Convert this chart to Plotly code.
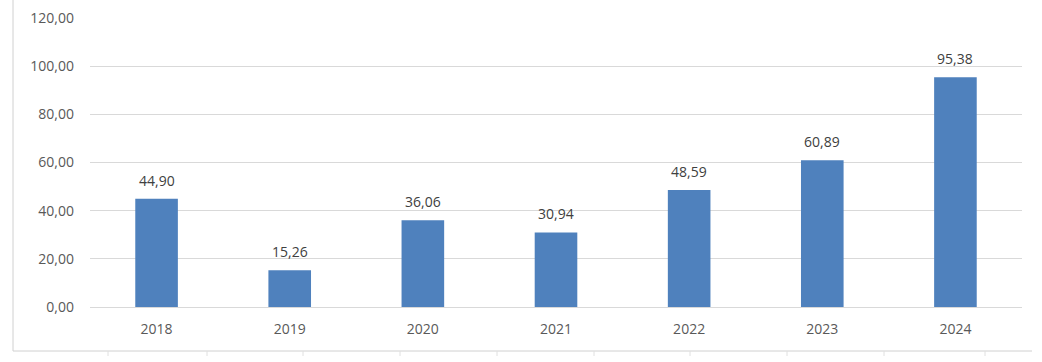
import plotly.graph_objects as go

years = ["2018", "2019", "2020", "2021", "2022", "2023", "2024"]
values = [44.90, 15.26, 36.06, 30.94, 48.59, 60.89, 95.38]
y_ticks = [0, 20, 40, 60, 80, 100, 120]

def fmt(v):
    return f"{v:.2f}".replace(".", ",")

fig = go.Figure(go.Bar(
    x=years, y=values,
    marker=dict(color="#4F81BD", line=dict(width=0)),
    width=0.32,
    hoverinfo="x+y",
))

# data labels (category axis: position by category index)
for i, v in enumerate(values):
    fig.add_annotation(x=i, y=v, text=fmt(v), showarrow=False, yanchor="bottom",
                       yshift=7, font=dict(color="#404040", size=14))

W, H = 1042, 362
L, R, T, B = 90, 20, 18, 55
fig.update_layout(
    width=W, height=H,
    margin=dict(l=L, r=R, t=T, b=B, autoexpand=False),
    paper_bgcolor="white", plot_bgcolor="white",
    font=dict(family="Open Sans, Liberation Sans, sans-serif", color="#595959", size=14),
    showlegend=False,
    xaxis=dict(type="category", range=[-0.5, len(years) - 0.5], showgrid=False, showline=False,
               ticks="", tickfont=dict(size=14), ticklabelstandoff=12),
    yaxis=dict(range=[0, 120], tickvals=y_ticks, ticktext=[fmt(v) for v in y_ticks],
               showgrid=True, gridcolor="#d9d9d9", gridwidth=1, zeroline=True,
               zerolinecolor="#d9d9d9", zerolinewidth=1, showline=False,
               ticklabelstandoff=15, tickfont=dict(size=14)),
)

# Surrounding frame lines (worksheet borders)
fx = lambda px: (px - L) / (W - L - R)
fy = lambda py: (H - B - py) / (H - T - B)
fig.add_shape(type="line", xref="paper", yref="paper", x0=fx(13), x1=fx(13), y0=fy(0), y1=fy(351),
              line=dict(color="#d0d0d0", width=1))
fig.add_shape(type="line", xref="paper", yref="paper", x0=fx(13), x1=fx(1032), y0=fy(351), y1=fy(351),
              line=dict(color="#d0d0d0", width=1))
for px in [108, 207, 303, 400, 497, 594, 690, 787, 884, 985]:
    fig.add_shape(type="line", xref="paper", yref="paper", x0=fx(px), x1=fx(px), y0=fy(351), y1=fy(356),
                  line=dict(color="#e0e0e0", width=1))

fig.write_html("out.html", config={"displayModeBar": False},
               post_script="document.body.style.margin='0';document.body.style.padding='0';")
